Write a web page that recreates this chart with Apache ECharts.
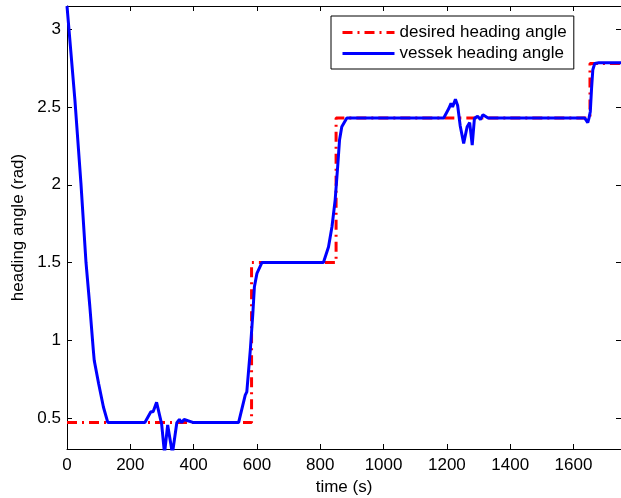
<!DOCTYPE html>
<html>
<head>
<meta charset="utf-8">
<script src="https://cdn.jsdelivr.net/npm/echarts@6/dist/echarts.min.js"></script>
<style>
  html, body { margin: 0; padding: 0; background: #fff; }
  #chart { width: 621px; height: 498px; }
</style>
</head>
<body>
<div id="chart"></div>
<script>
// Reference heading (step commands), time in s, angle in rad
const desiredT = [0, 583, 583, 850, 850, 1652, 1652, 1750];
const desiredV = [0.47, 0.47, 1.5, 1.5, 2.43, 2.43, 2.78, 2.78];

// Measured vessel heading
const vesselT = [0, 12, 25, 44, 60, 72, 83, 86, 100, 115, 129, 150, 200, 246, 250, 265, 272, 283, 299, 308, 318, 333, 347, 355, 362, 370, 400, 500, 542, 563, 568, 573, 579, 587, 592, 600, 616, 650, 700, 750, 800, 810, 826, 837, 847, 855, 861, 868, 884, 900, 1000, 1100, 1190, 1206, 1213, 1218, 1227, 1234, 1242, 1253, 1264, 1272, 1280, 1287, 1297, 1306, 1314, 1330, 1400, 1500, 1600, 1635, 1641, 1645, 1649, 1653, 1657, 1661, 1667, 1680, 1750];
const vesselV = [3.15, 2.86, 2.545, 2.01, 1.50, 1.22, 0.94, 0.87, 0.72, 0.57, 0.47, 0.47, 0.47, 0.47, 0.47, 0.54, 0.54, 0.60, 0.46, 0.27, 0.455, 0.27, 0.47, 0.49, 0.47, 0.49, 0.47, 0.47, 0.47, 0.647, 0.668, 0.79, 0.936, 1.17, 1.344, 1.43, 1.50, 1.50, 1.50, 1.50, 1.50, 1.50, 1.60, 1.73, 1.90, 2.116, 2.29, 2.373, 2.43, 2.43, 2.43, 2.43, 2.43, 2.49, 2.524, 2.50, 2.55, 2.51, 2.38, 2.266, 2.373, 2.40, 2.255, 2.427, 2.44, 2.42, 2.45, 2.43, 2.43, 2.43, 2.43, 2.43, 2.42, 2.40, 2.43, 2.47, 2.62, 2.74, 2.78, 2.785, 2.785];

// Axis ticks
const xTicks = [0, 200, 400, 600, 800, 1000, 1200, 1400, 1600];
const yTicks = [0.5, 1, 1.5, 2, 2.5, 3];

const zip = (a, b) => a.map((v, i) => [v, b[i]]);
const FONT = 'Liberation Sans, Arial, Helvetica, sans-serif';

const chart = echarts.init(document.getElementById('chart'));

const baseAxisLine = { show: true, onZero: false, lineStyle: { color: '#000', width: 1 } };
const baseTick = { show: true, inside: true, length: 5, lineStyle: { color: '#000', width: 1 } };
const plain = v => String(v);

chart.setOption({
  animation: false,
  backgroundColor: '#fff',
  grid: { left: 67, top: 6, right: 0, bottom: 49, containLabel: false, outerBoundsMode: 'none' },
  legend: {
    orient: 'vertical',
    left: 331,
    top: 16,
    padding: [8, 7, 7, 10],
    itemGap: 4,
    itemWidth: 52,
    itemHeight: 14,
    borderColor: '#000',
    borderWidth: 1,
    backgroundColor: '#fff',
    itemStyle: { opacity: 0 },
    lineStyle: { width: 3 },
    textStyle: { fontFamily: FONT, fontSize: 17, color: '#000' },
    data: ['desired heading angle', 'vessek heading angle']
  },
  xAxis: [
    {
      type: 'value', min: 0, max: 1750, position: 'bottom',
      name: 'time (s)', nameLocation: 'middle', nameGap: 29,
      nameTextStyle: { fontFamily: FONT, fontSize: 17, color: '#000' },
      axisLine: baseAxisLine,
      axisTick: Object.assign({ customValues: xTicks }, baseTick),
      axisLabel: { customValues: xTicks, formatter: plain, fontFamily: FONT, fontSize: 17, color: '#000', margin: 8 },
      splitLine: { show: false }
    },
    {
      type: 'value', min: 0, max: 1750, position: 'top',
      axisLine: baseAxisLine,
      axisTick: Object.assign({ customValues: xTicks }, baseTick),
      axisLabel: { show: false },
      splitLine: { show: false }
    }
  ],
  yAxis: [
    {
      type: 'value', min: 0.3, max: 3.15, position: 'left',
      name: 'heading angle (rad)', nameLocation: 'middle', nameGap: 36,
      nameTextStyle: { fontFamily: FONT, fontSize: 17, color: '#000' },
      axisLine: baseAxisLine,
      axisTick: Object.assign({ customValues: yTicks }, baseTick),
      axisLabel: { customValues: yTicks, formatter: plain, fontFamily: FONT, fontSize: 17, color: '#000', margin: 6 },
      splitLine: { show: false }
    },
    {
      type: 'value', min: 0.3, max: 3.15, position: 'right',
      axisLine: baseAxisLine,
      axisTick: Object.assign({ customValues: yTicks }, baseTick),
      axisLabel: { show: false },
      splitLine: { show: false }
    }
  ],
  series: [
    {
      name: 'desired heading angle',
      type: 'line',
      data: zip(desiredT, desiredV),
      symbol: 'none',
      clip: true,
      lineStyle: { color: '#ff0000', width: 3, type: [10, 5, 2, 5] },
      itemStyle: { color: '#ff0000' }
    },
    {
      name: 'vessek heading angle',
      type: 'line',
      data: zip(vesselT, vesselV),
      symbol: 'none',
      clip: true,
      lineStyle: { color: '#0000ff', width: 3 },
      itemStyle: { color: '#0000ff' }
    }
  ]
});
</script>
</body>
</html>
